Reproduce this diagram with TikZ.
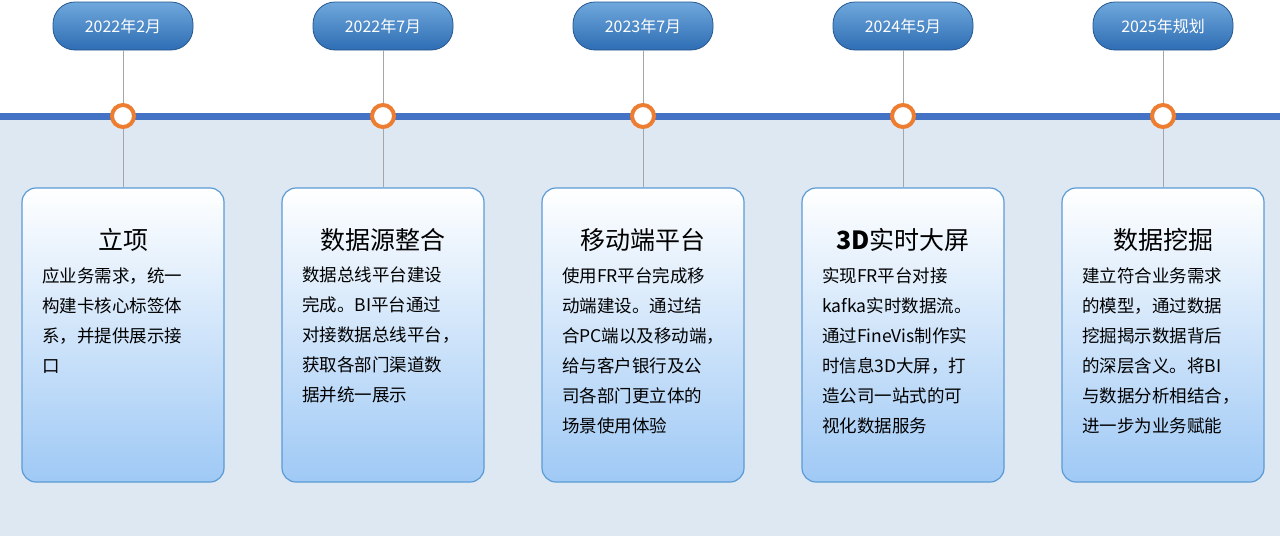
\documentclass[tikz,border=0pt]{standalone}
\usepackage{fontspec}
\setmainfont{Noto Sans CJK SC}
\definecolor{bgblue}{HTML}{DEE8F3}
\definecolor{lineblue}{HTML}{4472C4}
\definecolor{pilltop}{HTML}{6FA8DC}
\definecolor{pillbot}{HTML}{2E6DB4}
\definecolor{cardbot}{HTML}{9FC9F5}
\definecolor{cardedge}{HTML}{5B9BD5}
\definecolor{ringorange}{HTML}{ED7D31}
\tikzset{
  datepill/.style={rounded corners=22pt, draw=pillbot!80!black, line width=0.8pt,
    top color=pilltop, bottom color=pillbot, minimum width=140pt, minimum height=48pt,
    text=white, font=\fontsize{16}{18}\selectfont},
  cardbox/.style={rounded corners=14pt, draw=cardedge, line width=1.2pt,
    top color=white, bottom color=cardbot, minimum width=202pt, minimum height=294pt},
  ring/.style={circle, draw=ringorange, line width=4pt, fill=white, minimum size=22pt, inner sep=0pt},
  cardtitle/.style={font=\fontsize{25}{28}\selectfont},
  cardtext/.style={anchor=north west, align=left, inner sep=0pt,
    font=\fontsize{17.5}{30}\selectfont}
}
\begin{document}
\begin{tikzpicture}[x=1pt,y=-1pt]
  \useasboundingbox (0,0) rectangle (1280,536);
  % background and axis
  \fill[bgblue] (0,116) rectangle (1280,536);
  \draw[lineblue, line width=7pt] (0,116) -- (1280,116);

  \foreach \i/\x/\dt/\ttl/\txt in {
    1/123/2022年2月/立项/{应业务需求，统一\\构建卡核心标签体\\系，并提供展示接\\口},
    2/383/2022年7月/数据源整合/{数据总线平台建设\\完成。BI平台通过\\对接数据总线平台，\\获取各部门渠道数\\据并统一展示},
    3/643/2023年7月/移动端平台/{使用FR平台完成移\\动端建设。通过结\\合PC端以及移动端，\\给与客户银行及公\\司各部门更立体的\\场景使用体验},
    4/903/2024年5月/\textbf{3D}实时大屏/{实现FR平台对接\\kafka实时数据流。\\通过FineVis制作实\\时信息3D大屏，打\\造公司一站式的可\\视化数据服务},
    5/1163/2025年规划/数据挖掘/{建立符合业务需求\\的模型，通过数据\\挖掘揭示数据背后\\的深层含义。将BI\\与数据分析相结合，\\进一步为业务赋能}} {
    \node[datepill] (date\i) at (\x,26) {\dt};
    \node[cardbox] (card\i) at (\x,335) {};
    \node[ring] (ring\i) at (\x,116) {};
    \draw[gray!70, line width=1pt] (date\i.south) -- (ring\i.north);
    \draw[gray!70, line width=1pt] (ring\i.south) -- (card\i.north);
    \node[cardtitle] (title\i) at (\x,240) {\ttl};
    \node[cardtext] (text\i) at (\x-81,267) {\txt};
  }
\end{tikzpicture}
\end{document}
